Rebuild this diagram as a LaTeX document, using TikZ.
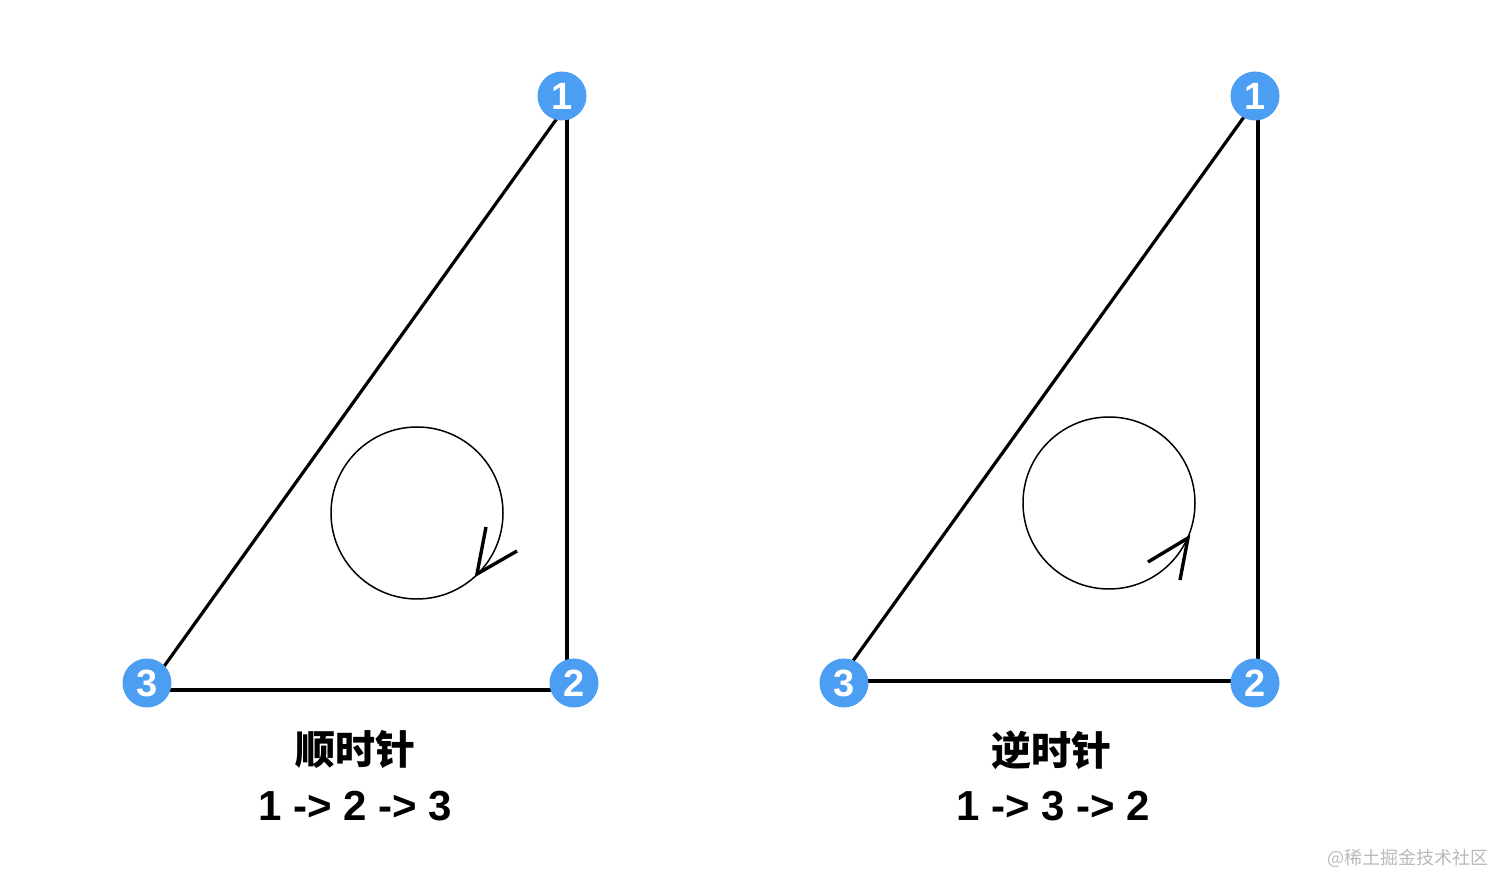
\documentclass[tikz,border=0pt]{standalone}
\usepackage{fontspec}
\setmainfont{Liberation Sans}
\newfontfamily\cjk{Noto Sans CJK SC}
\usetikzlibrary{calc,backgrounds}
\definecolor{nodeblue}{RGB}{76,158,242}
\definecolor{wmgray}{RGB}{185,185,185}
\tikzset{
  num/.style={circle,fill=nodeblue,text=white,minimum size=24.5pt,inner sep=0pt,font=\fontsize{19}{19}\selectfont\bfseries},
  edge/.style={line width=1.6pt,line join=miter},
  rot/.style={line width=0.75pt},
  tip/.style={line width=1.7pt,line join=miter},
  title/.style={font=\cjk\fontsize{20}{20}\selectfont\bfseries},
  order/.style={font=\fontsize{21}{21}\selectfont\bfseries},
}
\begin{document}
\begin{tikzpicture}[x=0.5pt,y=-0.5pt]
\useasboundingbox (0,0) rectangle (1512,892);
% left
\node[num] (L1) at (562,96) {1};
\node[num] (L2) at (574,683) {2};
\node[num] (L3) at (147,683) {3};
% right
\node[num] (R1) at (1255,96) {1};
\node[num] (R2) at (1255,683) {2};
\node[num] (R3) at (844,683) {3};
\begin{scope}[on background layer]
  \draw[edge] ($(L1)+(5,0)$) -- ($(L2)+(-7,7)$) -- ($(L3)+(0,7)$);
  \draw[edge] ($(L1)+(1,14)$) -- ($(L3)+(13,-11)$);
  \draw[edge] ($(R1)+(3,0)$) -- ($(R2)+(3,-2)$) -- ($(R3)+(0,-2)$);
  \draw[edge] ($(R1)+(-6,14)$) -- ($(R3)+(1,-11)$);
\end{scope}
% rotation circles
\coordinate (LC) at (417,513);
\coordinate (RC) at (1109,503);
\draw[rot] (LC) circle[radius=43pt];
\draw[rot] (RC) circle[radius=43pt];
\coordinate (Ltip) at (477,574);
\coordinate (La) at (486,527);
\coordinate (Lb) at (517,551);
\draw[tip] (La) -- (Ltip) -- (Lb);
\coordinate (Rtip) at (1188,538);
\coordinate (Ra) at (1148,562);
\coordinate (Rb) at (1180,580);
\draw[tip] (Ra) -- (Rtip) -- (Rb);
% labels
\node[title] (LT) at (355,750) {顺时针};
\node[order] (LO) at (355,806) {1 -> 2 -> 3};
\node[title] (RT) at (1051,750) {逆时针};
\node[order] (RO) at (1053,806) {1 -> 3 -> 2};
\node[text=wmgray,font=\cjk\fontsize{9}{9}\selectfont] (WM) at (1408,858) {@稀土掘金技术社区};
\end{tikzpicture}
\end{document}
